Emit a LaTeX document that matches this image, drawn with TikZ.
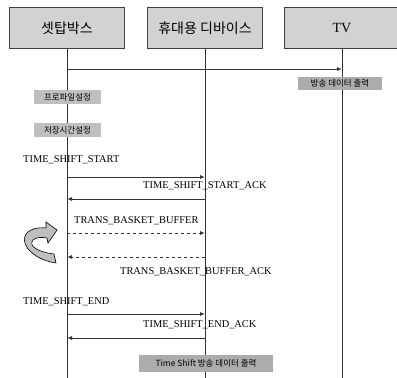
\documentclass[tikz,border=0pt]{standalone}
\usepackage{fontspec}
\setmainfont{Liberation Serif}
\newfontfamily\krfont{Noto Sans CJK KR}
\usetikzlibrary{positioning, arrows.meta}

\begin{document}
\begin{tikzpicture}[x=1pt, y=-1pt, every node/.style={font=\fontsize{10.4}{12}\selectfont},
  head/.style={rectangle, draw=black!75, fill=gray!35, minimum width=115pt, minimum height=41pt, inner sep=0pt, font=\krfont\fontsize{14}{16}\selectfont},
  note/.style={rectangle, fill=gray!50, minimum height=14pt, inner sep=2pt, font=\krfont\fontsize{8.5}{10}\selectfont},
  darknote/.style={note, fill=gray!65},
  msg/.style={anchor=west, inner sep=0pt},
  life/.style={black!80, line width=0.8pt},
  arrow/.style={-{Latex[length=5pt, width=4pt]}, line width=0.9pt, black!80},
  dasharrow/.style={arrow, dashed}
]
\useasboundingbox (0,0) rectangle (397,378);

% Participants
\node[head] (stb) at (67,28) {셋탑박스};
\node[head] (dev) at (205,28) {휴대용 디바이스};
\node[head, font=\rmfamily\fontsize{14}{16}\selectfont] (tv) at (342,28) {TV};

% Lifelines
\coordinate (stbend) at (stb |- 0,378);
\coordinate (devend) at (dev |- 0,378);
\coordinate (tvend) at (tv |- 0,378);
\draw[life] (stb) -- (stbend);
\draw[life] (dev) -- (devend);
\draw[life] (tv) -- (tvend);

% message rows on each lifeline
\foreach \n/\y in {m0/69, m1/177, m2/199, m3/233, m4/257, m5/314, m6/338} {
  \coordinate (stb-\n) at (stb |- 0,\y);
  \coordinate (dev-\n) at (dev |- 0,\y);
  \coordinate (tv-\n) at (tv |- 0,\y);
}

% Notes
\node[note, minimum width=67pt] (prof) at (67.5,97) {프로파일설정};
\node[note, minimum width=67pt] (stime) at (67.5,130) {저장시간설정};
\node[darknote, minimum width=84pt, minimum height=13pt] (tvout) at (340,83.5) {방송 데이터 출력};
\node[darknote, minimum width=134pt, minimum height=17pt] (tsout) at (206,363.5) {Time Shift 방송 데이터 출력};

% Labels
\node[msg] (l1) at (23,160) {TIME\_SHIFT\_START};
\node[msg] (l2) at (143,186) {TIME\_SHIFT\_START\_ACK};
\node[msg] (l3) at (74,221) {TRANS\_BASKET\_BUFFER};
\node[msg] (l4) at (120,272) {TRANS\_BASKET\_BUFFER\_ACK};
\node[msg] (l5) at (23,302) {TIME\_SHIFT\_END};
\node[msg] (l6) at (143,325) {TIME\_SHIFT\_END\_ACK};

% Messages
\draw[arrow] (stb-m0) -- (tv-m0);
\draw[arrow] (stb-m1) -- (dev-m1);
\draw[arrow] (dev-m2) -- (stb-m2);
\draw[dasharrow] (stb-m3) -- (dev-m3);
\draw[dasharrow] (dev-m4) -- (stb-m4);
\draw[arrow] (stb-m5) -- (dev-m5);
\draw[arrow] (dev-m6) -- (stb-m6);

% loop icon
\filldraw[fill=gray!50, draw=black, line width=0.6pt] (56,263) -- (54,254) .. controls (38,252) and (28,246) .. (33,240) .. controls (36,237) and (42,237) .. (47,238) -- (48,243) -- (57,230) -- (46,222) -- (46,228) .. controls (38,227) and (28,229) .. (25,236) .. controls (21,246) and (35,260) .. (56,263) -- cycle;

\end{tikzpicture}
\end{document}
